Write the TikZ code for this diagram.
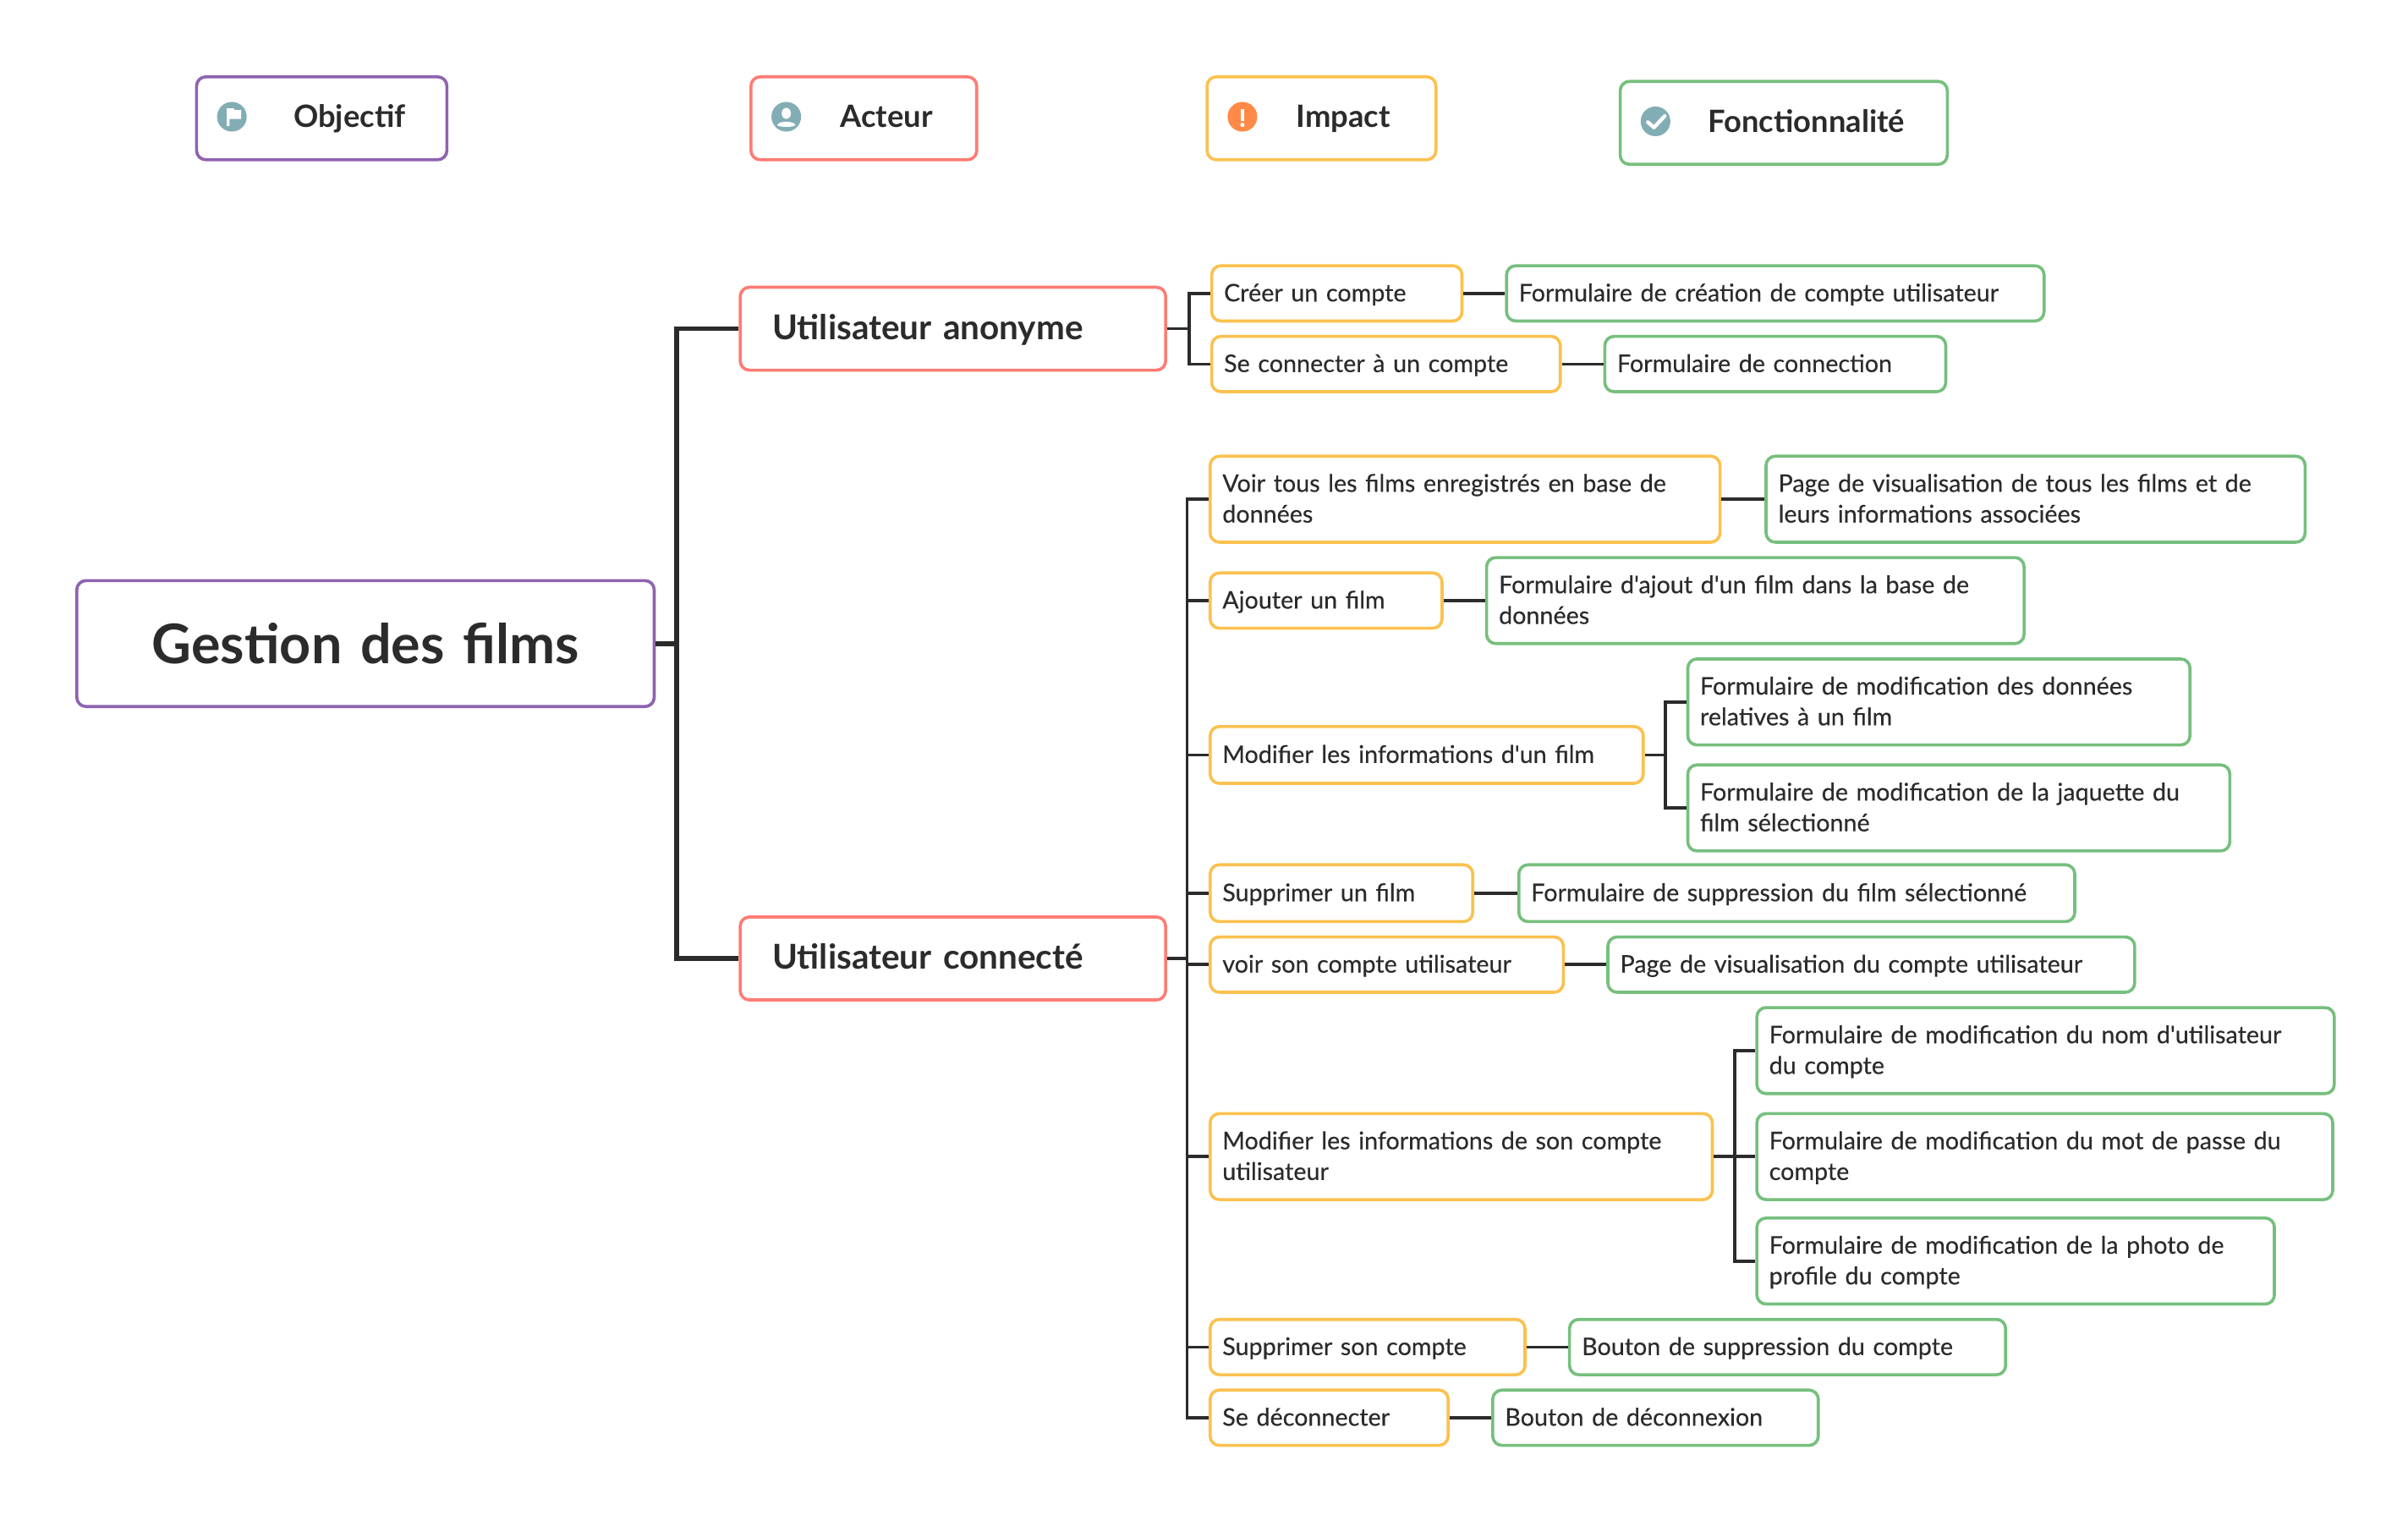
\documentclass[tikz,border=0pt]{standalone}
\usepackage{fontspec}
\setmainfont{Lato}
\newfontfamily\medfont{Lato}[FakeBold=0.3]
\newcommand{\txtsmall}{\fontsize{11.85pt}{15pt}\selectfont\medfont}
\newcommand{\txtlegend}{\fontsize{15pt}{18pt}\selectfont\bfseries}
\newcommand{\smallstrut}{\rule[-3.6pt]{0pt}{15pt}}
\newcommand{\actstrut}{\rule[-4.8pt]{0pt}{20pt}}
\definecolor{inkdark}{HTML}{2B2B2B}
\definecolor{purpleline}{HTML}{8F63AF}
\definecolor{redline}{HTML}{FD7C75}
\definecolor{yellowline}{HTML}{FBC14F}
\definecolor{greenline}{HTML}{76BF7E}
\definecolor{tealicon}{HTML}{83ADB5}
\definecolor{orangeicon}{HTML}{FF8A48}
\tikzset{
    x=0.75pt, y=-0.75pt,
    box/.style={draw, line width=1.5pt, rounded corners=4.5pt, fill=white, anchor=north west,
        text=inkdark, align=left, inner xsep=6pt, inner ysep=0pt},
    size/.style n args={2}{minimum width=#1*0.75pt, minimum height=#2*0.75pt, text width=#1*0.75pt-12pt},
    objbox/.style={box, draw=purpleline},
    actbox/.style={box, draw=redline, font=\fontsize{16.7pt}{20pt}\selectfont\bfseries,
        execute at begin node=\actstrut, execute at end node=\actstrut},
    impbox/.style={box, draw=yellowline, font=\txtsmall,
        execute at begin node=\smallstrut, execute at end node=\smallstrut},
    fctbox/.style={box, draw=greenline, font=\txtsmall,
        execute at begin node=\smallstrut, execute at end node=\smallstrut},
    legendbox/.style={box},
    legendtxt/.style={font=\txtlegend, text=inkdark, anchor=base west, inner sep=0pt},
    link/.style={draw=inkdark, line width=1.5pt},
    biglink/.style={draw=inkdark, line width=2.4pt},
    icon/.style={circle, fill=tealicon, minimum size=14.5pt, inner sep=0pt}
}
\begin{document}
\begin{tikzpicture}
    \useasboundingbox (1,1) rectangle (1569,991);

    % Legend
    \node[legendbox, draw=purpleline, size={163}{54}] (legobj) at (128,50) {};
    \node[legendbox, draw=redline, size={147}{54}] (legact) at (489,50) {};
    \node[legendbox, draw=yellowline, size={149}{54}] (legimp) at (786,50) {};
    \node[legendbox, draw=greenline, size={213}{54}] (legfct) at (1055,53) {};
    \node[icon] (icoobj) at (152,77) {};
    \node[icon] (icoact) at (513,77) {};
    \node[icon, fill=orangeicon] (icoimp) at (810,77) {};
    \node[icon] (icofct) at (1079,80) {};
    \node[legendtxt] (txtobj) at (192,84) {Objectif};
    \node[legendtxt] (txtact) at (548,84) {Acteur};
    \node[legendtxt] (txtimp) at (845,84) {Impact};
    \node[legendtxt] (txtfct) at (1113,87) {Fonctionnalité};

    % Icon glyphs
    \fill[white] (148.7,71.5) -- (153.5,71.5) -- (153.5,72.7) -- (158,72.7) -- (158,78.5) -- (150.5,78.5) -- (150.5,83) -- (148.7,83) -- cycle;
    \fill[white] (513,74.8) ellipse (3 and 3.6);
    \fill[white] (507,82.5) .. controls (508,79.5) and (518,79.5) .. (519,82.5) .. controls (517,84) and (509,84) .. (507,82.5) -- cycle;
    \fill[white] (808.9,72) rectangle (811.1,80);
    \fill[white] (810,82.3) circle (1.4);
    \draw[white, line width=1.8pt, line cap=round, line join=round] (1074,80.5) -- (1078,84) -- (1085,76.5);

    % Root and actors
    \node[objbox, size={376}{82}, align=center, font=\fontsize{26.7pt}{32pt}\selectfont\bfseries] (root) at (50,378) {Gestion des films};
    \node[actbox, size={277}{54}, inner xsep=15.75pt, text width=176.25pt] (anon) at (482,187) {Utilisateur anonyme};
    \node[actbox, size={277}{54}, inner xsep=15.75pt, text width=176.25pt] (conn) at (482,597) {Utilisateur connecté};

    % Anonymous user
    \node[impbox, size={163}{36}] (creer) at (789,173) {Créer un compte};
    \node[impbox, size={227}{36}] (seco) at (789,219) {Se connecter à un compte};
    \node[fctbox, size={350}{36}] (fcreer) at (981,173) {Formulaire de création de compte utilisateur};
    \node[fctbox, size={222}{36}] (fseco) at (1045,219) {Formulaire de connection};

    % Connected user
    \node[impbox, size={332}{56}] (voir) at (788,297) {Voir tous les films enregistrés en base de données};
    \node[impbox, size={151}{36}] (ajout) at (788,373) {Ajouter un film};
    \node[impbox, size={282}{37}] (modif) at (788,473) {Modifier les informations d'un film};
    \node[impbox, size={171}{37}] (suppr) at (788,563) {Supprimer un film};
    \node[impbox, size={230}{36}] (voirc) at (788,610) {voir son compte utilisateur};
    \node[impbox, size={327}{56}] (modc) at (788,725) {Modifier les informations de son compte utilisateur};
    \node[impbox, size={205}{36}] (suppc) at (788,859) {Supprimer son compte};
    \node[impbox, size={155}{36}] (decon) at (788,905) {Se déconnecter};

    \node[fctbox, size={351}{56}] (pvoir) at (1150,297) {Page de visualisation de tous les films et de leurs informations associées};
    \node[fctbox, size={350}{56}] (fajout) at (968,363) {Formulaire d'ajout d'un film dans la base de données};
    \node[fctbox, size={327}{56}] (fmoda) at (1099,429) {Formulaire de modification des données relatives à un film};
    \node[fctbox, size={353}{56}] (fmodb) at (1099,498) {Formulaire de modification de la jaquette du film sélectionné};
    \node[fctbox, size={362}{37}] (fsuppr) at (989,563) {Formulaire de suppression du film sélectionné};
    \node[fctbox, size={343}{36}] (pvoirc) at (1047,610) {Page de visualisation du compte utilisateur};
    \node[fctbox, size={376}{56}] (fmodc) at (1144,656) {Formulaire de modification du nom d'utilisateur\\du compte};
    \node[fctbox, size={375}{56}] (fmodd) at (1144,725) {Formulaire de modification du mot de passe du compte};
    \node[fctbox, size={337}{56}] (fmode) at (1144,793) {Formulaire de modification de la photo de profile du compte};
    \node[fctbox, size={284}{36}] (bsuppc) at (1022,859) {Bouton de suppression du compte};
    \node[fctbox, size={212}{36}] (bdecon) at (972,905) {Bouton de déconnexion};

    % Connectors
    \foreach \actor in {anon, conn}
        \draw[biglink] (root.east) -- ++(13.5,0) |- (\actor.west);
    \foreach \imp in {creer, seco}
        \draw[link] (anon.east) -- ++(14.5,0) |- (\imp.west);
    \foreach \imp in {voir, ajout, modif, suppr, voirc, modc, suppc, decon}
        \draw[link] (conn.east) -- ++(13,0) |- (\imp.west);
    \foreach \from/\to in {creer/fcreer, seco/fseco, voir/pvoir, ajout/fajout, suppr/fsuppr, voirc/pvoirc, suppc/bsuppc, decon/bdecon}
        \draw[link] (\from) -- (\to);
    \foreach \fct in {fmoda, fmodb}
        \draw[link] (modif.east) -- ++(13.5,0) |- (\fct.west);
    \foreach \fct in {fmodc, fmodd, fmode}
        \draw[link] (modc.east) -- ++(13.5,0) |- (\fct.west);
\end{tikzpicture}
\end{document}
